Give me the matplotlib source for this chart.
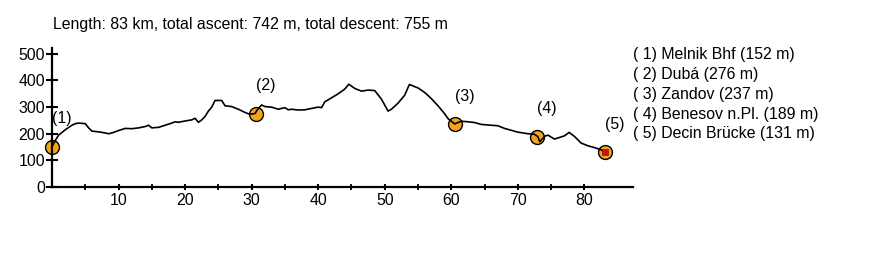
import numpy as np
import matplotlib.pyplot as plt
from matplotlib.ticker import MultipleLocator, FixedLocator

plt.rcParams['font.family'] = ['Liberation Sans', 'DejaVu Sans']

# profile: distance (km) and elevation (m)
dist = [0, 0.5, 1, 2, 3, 3.5, 4, 5, 5.5, 6, 7, 8, 8.5, 9, 10, 11, 12, 13, 14, 14.5,
        15, 16, 17, 18, 18.5, 19, 20, 21, 21.5, 22, 22.5, 23, 23.5, 24, 24.5, 25.5,
        26, 27, 28, 29, 29.7, 30.5, 31, 31.5, 32, 33, 34, 35, 35.5, 36, 37, 38, 39,
        40, 40.5, 41, 42, 43, 44, 44.6, 45.5, 46.5, 47.5, 48.5, 49.5, 50.5, 51, 52,
        53, 53.7, 55, 56, 57, 58, 59, 59.5, 60.5, 61.5, 62.5, 63.5, 64.5, 66, 67, 68,
        70, 71.5, 72.5, 73, 73.3, 74, 74.5, 75.5, 76.5, 77, 77.7, 78.5, 79.5, 80.5,
        81.5, 82.5, 83]
elev = [152, 175, 195, 215, 232, 238, 240, 238, 222, 210, 207, 203, 200, 203, 212,
        220, 219, 222, 227, 232, 222, 224, 232, 240, 245, 243, 248, 252, 258, 243,
        252, 265, 285, 300, 325, 325, 305, 302, 292, 280, 273, 276, 295, 308, 302,
        300, 292, 298, 290, 292, 289, 290, 295, 300, 298, 320, 335, 350, 368, 386,
        370, 360, 364, 362, 330, 285, 292, 315, 345, 385, 372, 355, 332, 305, 275,
        257, 237, 247, 245, 242, 235, 232, 230, 220, 206, 200, 198, 189, 170, 190,
        195, 180, 188, 192, 205, 190, 165, 155, 148, 140, 131]

# waypoints
wp_km = [0, 30.6, 60.5, 72.9, 83.1]
wp_elev = [152, 276, 237, 189, 131]
wp_names = ['Melnik Bhf', 'Dubá', 'Zandov', 'Benesov n.Pl.', 'Decin Brücke']

title = 'Length: 83 km, total ascent: 742 m, total descent: 755 m'

fig = plt.figure(figsize=(8.74, 2.70), dpi=100)
ax = fig.add_axes([52/874, 1 - 187/270, (633 - 52)/874, (187 - 48)/270])

ax.plot(wp_km, wp_elev, 'o', ms=10, mfc='#f2a41e', mec='black', mew=1, zorder=2, clip_on=False)
ax.plot(wp_km[-1], wp_elev[-1], 's', ms=4, mfc='#d01010', mec='#901010', mew=0.5, zorder=4)
ax.plot(dist, elev, color='black', lw=1.2, zorder=3, clip_on=False)

for i, (x, y) in enumerate(zip(wp_km, wp_elev)):
    ax.annotate('(%d)' % (i + 1), (x, y), xytext=(7, 20), textcoords='offset points',
                ha='center', va='center', fontsize=11.4)

ax.set_xlim(0, 87.3)
ax.set_ylim(0, 522)
for s in ['top', 'right']:
    ax.spines[s].set_visible(False)
for s in ['left', 'bottom']:
    ax.spines[s].set_linewidth(1.6)

ax.yaxis.set_major_locator(MultipleLocator(100))
ax.xaxis.set_major_locator(FixedLocator(range(10, 90, 10)))
ax.xaxis.set_minor_locator(FixedLocator(range(5, 85, 10)))
ax.tick_params(axis='y', direction='inout', length=8, width=1.5, pad=1, labelsize=11.4)
ax.tick_params(axis='x', which='major', direction='inout', length=5, width=1.5, pad=2, labelsize=11.4)
ax.tick_params(axis='x', which='minor', direction='inout', length=4, width=1.3)

fig.text(53/874, 1 - 25/270, title, fontsize=11.4, ha='left', va='center')
for i, name in enumerate(wp_names):
    fig.text(633/874, 1 - (54 + 20 * i)/270, '( %d) %s (%d m)' % (i + 1, name, wp_elev[i]),
             fontsize=11.4, ha='left', va='center')

fig.savefig('out.png', dpi=100)
